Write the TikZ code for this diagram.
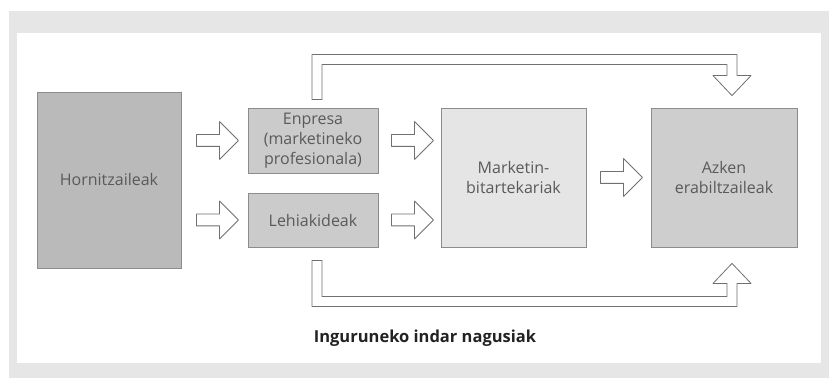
\documentclass[tikz,border=0pt]{standalone}
\usepackage{fontspec}
\setmainfont{Open Sans}
\usepackage{xcolor}
\definecolor{framegray}{HTML}{E6E6E6}
\definecolor{boxdark}{HTML}{BABABA}
\definecolor{boxmid}{HTML}{CBCBCB}
\definecolor{boxlight}{HTML}{E5E5E5}
\definecolor{boxend}{HTML}{CECECE}
\definecolor{edgegray}{HTML}{8C8C8C}
\definecolor{arrowgray}{HTML}{707070}
\definecolor{ink}{HTML}{5A5A5A}
\definecolor{labelink}{HTML}{222222}
\usetikzlibrary{calc,positioning,shapes.arrows}

\begin{document}
\begin{tikzpicture}[x=1pt, y=-1pt, font=\fontsize{16}{20}\selectfont,
	box/.style={draw=edgegray, line width=0.8pt, text=ink, align=center, inner sep=2pt},
	fatarrow/.style={single arrow, draw=arrowgray, fill=white, line width=0.8pt, line join=round,
		minimum height=42pt, minimum width=0pt, inner xsep=0pt, inner ysep=5.5pt,
		single arrow head extend=13pt, single arrow tip angle=90},
	bentarrow/.style={draw=arrowgray, fill=white, line width=0.8pt, line join=round}
	]

			% ================= Frame =================
			\useasboundingbox (0,0) rectangle (829,379);
			\fill[framegray] (9,11) rectangle (829,378);
			\fill[white] (17,33) rectangle (821,363);

			% ================= Boxes =================
			\node[box, fill=boxdark, minimum width=144pt, minimum height=176pt] (horn) at (109,180) {Hornitzaileak};
			\node[box, fill=boxmid, minimum width=130pt, minimum height=65pt] (enp) at (313,140.5) {Enpresa\\(marketineko\\profesionala)};
			\node[box, fill=boxmid, minimum width=130pt, minimum height=54pt] (leh) at (313,220) {Lehiakideak};
			\node[box, fill=boxlight, minimum width=145pt, minimum height=139pt] (mkt) at (513.5,177.5) {Marketin-\\bitartekariak};
			\node[box, fill=boxend, minimum width=146pt, minimum height=139pt] (azk) at (724,177.5) {Azken\\erabiltzaileak};

			% ================= Straight arrows =================
			\node[fatarrow] (a1) at ($(horn.east |- enp)!0.5!(enp.west)$) {};
			\node[fatarrow] (a2) at ($(horn.east |- leh)!0.5!(leh.west)$) {};
			\node[fatarrow] (a3) at ($(enp.east)!0.5!(mkt.west |- enp)$) {};
			\node[fatarrow] (a4) at ($(leh.east)!0.5!(mkt.west |- leh)$) {};
			\node[fatarrow] (a5) at ($(mkt.east)!0.5!(azk.west)$) {};

			% ================= Bent arrows =================
			\coordinate (tS) at ($(enp.north)+(4,-8)$);
			\coordinate (tC) at ($(azk.north)+(8,-48)$);
			\coordinate (tE) at ($(azk.north)+(8,-12)$);

			\draw[bentarrow]
			($(tS)+(-5,0)$) -- ($(tS |- tC)+(-5,-5)$) -- ($(tC)+(5,-5)$) -- ($(tE)+(5,-20)$)
			-- ($(tE)+(19,-20)$) -- (tE) -- ($(tE)+(-19,-20)$) -- ($(tE)+(-5,-20)$)
			-- ($(tC)+(-5,5)$) -- ($(tS |- tC)+(5,5)$) -- ($(tS)+(5,0)$) -- cycle;

			\coordinate (bS) at ($(leh.south)+(4,13)$);
			\coordinate (bC) at ($(azk.south)+(8,54)$);
			\coordinate (bE) at ($(azk.south)+(8,16)$);

			\draw[bentarrow]
			($(bS)+(-5,0)$) -- ($(bS |- bC)+(-5,5)$) -- ($(bC)+(5,5)$) -- ($(bE)+(5,20)$)
			-- ($(bE)+(19,20)$) -- (bE) -- ($(bE)+(-19,20)$) -- ($(bE)+(-5,20)$)
			-- ($(bC)+(-5,-5)$) -- ($(bS |- bC)+(5,-5)$) -- ($(bS)+(5,0)$) -- cycle;

			% ================= Label =================
			\node[font=\fontsize{16.5}{20}\selectfont\bfseries, text=labelink] (lbl) at (425,338) {Inguruneko indar nagusiak};

\end{tikzpicture}
\end{document}
